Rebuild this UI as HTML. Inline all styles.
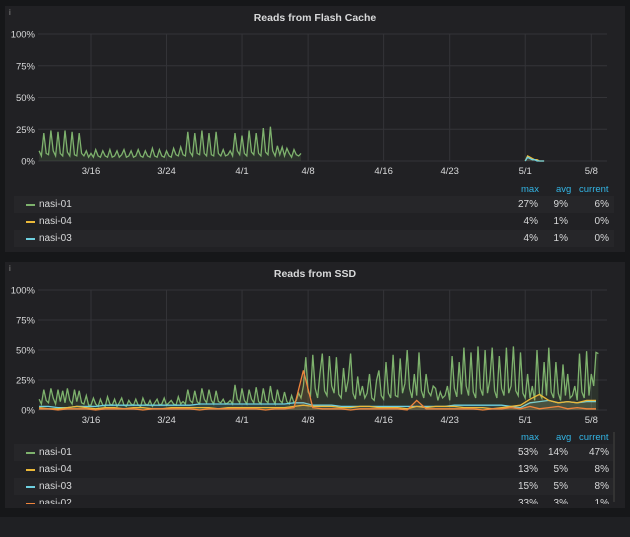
<!DOCTYPE html>
<html><head><meta charset="utf-8">
<style>
html,body{margin:0;padding:0;background:#161719;width:630px;height:537px;overflow:hidden;font-family:"Liberation Sans",sans-serif;}
.panel{position:absolute;left:5px;width:620px;background:#212124;}
.title{position:absolute;left:0;width:100%;top:6px;text-align:center;color:#d8d9da;font-size:10.5px;font-weight:bold;}
.info{position:absolute;left:4px;top:2px;color:#8e8e8e;font-size:8px;}
svg{position:absolute;left:0;top:0;}
.lg{position:absolute;left:9px;width:600px;font-size:10px;color:#d8d9da;}
.hdr{position:absolute;color:#33b5e5;font-size:9.5px;}
.row{position:absolute;left:0;width:600px;height:17px;line-height:17px;}
.sw{position:absolute;left:12px;top:8px;width:9px;height:2px;}
.nm{position:absolute;left:25px;}
.v{position:absolute;text-align:right;width:40px;}
</style></head><body>
<div class="panel" style="top:6px;height:246px;">
 <div class="info">i</div>
 <div class="title">Reads from Flash Cache</div>
 <svg id="c1" width="620" height="180"></svg>
 <div class="lg" style="top:176px;height:66px;">
  <span class="hdr" style="left:507px;top:2px">max</span><span class="hdr" style="left:542px;top:2px">avg</span><span class="hdr" style="left:565px;top:2px">current</span>
  <div class="row" style="top:14px;background:#262629"><span class="sw" style="background:#7eb26d"></span><span class="nm">nasi-01</span><span class="v" style="left:484px">27%</span><span class="v" style="left:514px">9%</span><span class="v" style="left:555px">6%</span></div>
  <div class="row" style="top:31px;background:#212124"><span class="sw" style="background:#eab839"></span><span class="nm">nasi-04</span><span class="v" style="left:484px">4%</span><span class="v" style="left:514px">1%</span><span class="v" style="left:555px">0%</span></div>
  <div class="row" style="top:48px;background:#262629"><span class="sw" style="background:#6ed0e0"></span><span class="nm">nasi-03</span><span class="v" style="left:484px">4%</span><span class="v" style="left:514px">1%</span><span class="v" style="left:555px">0%</span></div>
 </div>
</div>
<div class="panel" style="top:262px;height:246px;">
 <div class="info">i</div>
 <div class="title">Reads from SSD</div>
 <svg id="c2" width="620" height="170"></svg>
 <div class="lg" style="top:168px;height:74px;overflow:hidden;">
  <span class="hdr" style="left:507px;top:2px">max</span><span class="hdr" style="left:542px;top:2px">avg</span><span class="hdr" style="left:565px;top:2px">current</span>
  <div class="row" style="top:14px;background:#262629"><span class="sw" style="background:#7eb26d"></span><span class="nm">nasi-01</span><span class="v" style="left:484px">53%</span><span class="v" style="left:514px">14%</span><span class="v" style="left:555px">47%</span></div>
  <div class="row" style="top:31px;background:#212124"><span class="sw" style="background:#eab839"></span><span class="nm">nasi-04</span><span class="v" style="left:484px">13%</span><span class="v" style="left:514px">5%</span><span class="v" style="left:555px">8%</span></div>
  <div class="row" style="top:48px;background:#262629"><span class="sw" style="background:#6ed0e0"></span><span class="nm">nasi-03</span><span class="v" style="left:484px">15%</span><span class="v" style="left:514px">5%</span><span class="v" style="left:555px">8%</span></div>
  <div class="row" style="top:65px;background:#212124"><span class="sw" style="background:#ef843c"></span><span class="nm">nasi-02</span><span class="v" style="left:484px">33%</span><span class="v" style="left:514px">3%</span><span class="v" style="left:555px">1%</span></div>
 </div>
 <div style="position:absolute;left:608px;top:170px;width:2px;height:70px;background:#333"></div>
</div>
<div style="position:absolute;left:0;top:517px;width:630px;height:20px;background:#1f2023"></div>
<script>
const tickLabels=["3/16","3/24","4/1","4/8","4/16","4/23","5/1","5/8"];
const tickDays=[6,14,22,29,37,44,52,59];
const yTicks=[0,25,50,75,100];
const step=0.25;
const p1Start=0.5;
const p1Nasi01=[8,4,22,6,5,24,8,4,23,6,4,24,7,4,23,5,4,22,6,4,8,3,
6,3,9,4,3,8,4,3,9,3,4,8,3,5,9,3,4,8,3,4,9,4,3,8,4,3,10,4,3,9,4,3,8,4,3,10,5,4,11,5,
4,23,7,4,22,6,5,24,6,4,22,5,4,23,6,4,9,4,5,8,
4,22,8,5,20,6,4,24,7,5,22,6,4,26,7,5,27,8,4,12,
5,11,4,10,6,3,9,5,4,6];
const p1SmallStart=52;
const p1Nasi04=[0,4,3,2,1,1,0,0,0];
const p1Nasi03=[0,3,2,1,1,0,0,0,0];
const p2Start=0.5;
const p2Nasi01=[9,5,17,8,6,18,10,5,17,7,16,6,18,8,5,17,7,16,6,5,12,4,
4,10,5,3,9,4,3,11,5,4,9,3,6,10,4,3,8,5,4,9,4,3,10,5,4,8,3,6,9,4,5,10,4,6,8,5,4,11,5,7,
5,17,8,6,16,7,5,18,9,6,17,8,5,16,7,6,9,5,6,8,
5,21,9,6,18,8,5,17,9,6,19,7,5,18,8,6,20,9,5,17,
8,6,15,7,5,12,6,8,14,10,
20,44,15,12,46,18,10,30,47,16,12,45,20,14,44,13,10,35,15,25,47,14,9,28,
12,20,10,14,30,10,8,25,33,12,9,40,14,10,46,12,11,43,14,22,50,18,10,30,
12,48,16,10,30,15,12,20,18,8,15,10,12,20,8,45,18,11,40,13,52,20,12,48,
15,10,53,18,12,50,14,25,52,16,10,45,18,12,52,14,20,53,16,12,48,14,10,30,
10,20,8,50,14,10,40,12,52,15,10,40,14,8,38,12,30,10,12,20,8,47,15,10,
49,12,30,20,48,47];
const dailyStep=1;
const p2Nasi04=[2,1,1,2,3,2,1,2,2,1,2,2,1,1,2,2,2,2,2,1,2,2,2,2,2,2,2,3,4,3,3,3,2,2,3,3,2,2,2,1,3,2,3,3,3,2,2,2,1,2,3,4,9,13,8,6,7,6,8,8];
const p2Nasi03=[3,3,2,2,3,3,3,4,4,4,4,4,4,4,4,4,4,5,5,5,5,5,5,5,5,5,5,6,6,4,4,4,3,3,3,3,3,3,3,3,3,3,3,3,4,4,4,4,4,4,3,2,6,7,8,6,7,6,7,7];
const p2Nasi02=[1,1,0,1,1,1,0,1,1,1,1,0,1,1,1,1,1,0,1,1,1,1,1,1,0,1,1,2,33,2,1,1,1,0,1,1,1,1,1,0,8,1,1,1,1,1,1,0,1,1,2,1,3,1,2,3,1,2,1,1];
const NS="http://www.w3.org/2000/svg";
function xs(d){return 86+(d-6)*9.44;}
function mk(svg,tag,attrs){const e=document.createElementNS(NS,tag);for(const k in attrs)e.setAttribute(k,attrs[k]);svg.appendChild(e);return e;}
function draw(id,y0,y100){
 const svg=document.getElementById(id);
 const ys=v=>y0+(y100-y0)*v/100;
 yTicks.forEach(t=>{
  const l=mk(svg,'line',{x1:33,x2:602,y1:ys(t),y2:ys(t),stroke:'#343438','stroke-width':1});
  
  
  const tx=mk(svg,'text',{x:30,y:ys(t)+3.5,'text-anchor':'end',fill:'#d8d9da','font-size':9.5});
  tx.textContent=t+'%';
  
  
 });
 tickDays.forEach((d,i)=>{
  const l=mk(svg,'line',{x1:xs(d),x2:xs(d),y1:y100,y2:y0,stroke:'#343438','stroke-width':1});
  
  
  const tx=mk(svg,'text',{x:xs(d),y:y0+13,'text-anchor':'middle',fill:'#d8d9da','font-size':9.5});
  tx.textContent=tickLabels[i];
  
  
 });
 return ys;
}
function series(id,ys,y0,start,st,vals,color,name,fill){
 const svg=document.getElementById(id);
 const pts=vals.map((v,i)=>xs(start+i*st).toFixed(1)+','+ys(v).toFixed(1));
 if(fill){
  const a=mk(svg,'polygon',{points:xs(start).toFixed(1)+','+y0+' '+pts.join(' ')+' '+xs(start+(vals.length-1)*st).toFixed(1)+','+y0,fill:color,'fill-opacity':0.12});
  
  
 }
 const p=mk(svg,'polyline',{points:pts.join(' '),fill:'none',stroke:color,'stroke-width':1.3});
 
 
}
const ys1=draw('c1',155,28);
series('c1',ys1,155,p1Start,step,p1Nasi01,'#7eb26d','nasi-01',true);
series('c1',ys1,155,p1SmallStart,step,p1Nasi04,'#eab839','nasi-04',true);
series('c1',ys1,155,p1SmallStart,step,p1Nasi03,'#6ed0e0','nasi-03',true);
const ys2=draw('c2',148,28);
series('c2',ys2,148,p2Start,step,p2Nasi01,'#7eb26d','nasi-01',true);
series('c2',ys2,148,p2Start,dailyStep,p2Nasi03,'#6ed0e0','nasi-03',true);
series('c2',ys2,148,p2Start,dailyStep,p2Nasi04,'#eab839','nasi-04',true);
series('c2',ys2,148,p2Start,dailyStep,p2Nasi02,'#ef843c','nasi-02',true);
</script>
</body></html>
